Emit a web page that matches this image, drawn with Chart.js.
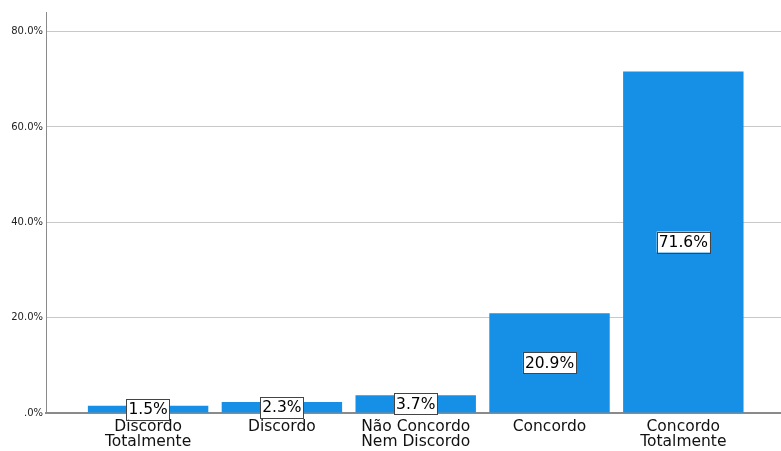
<!DOCTYPE html>
<html>
<head>
<meta charset="utf-8">
<script src="https://cdn.jsdelivr.net/npm/chart.js@4"></script>
<style>
  html, body { margin: 0; padding: 0; background: #fff; }
  #wrap { width: 781px; height: 451px; }
</style>
</head>
<body>
<div id="wrap"><canvas id="myChart"></canvas></div>
<script>
const categories = [['Discordo', 'Totalmente'], 'Discordo', ['Não Concordo', 'Nem Discordo'], 'Concordo', ['Concordo', 'Totalmente']];
const percents = [1.5, 2.3, 3.7, 20.9, 71.6];
const yTicks = [0, 20, 40, 60, 80];

// caixas brancas com o valor no meio da barra
const boxLabels = {
  id: 'boxLabels',
  afterDatasetsDraw(chart) {
    const ctx = chart.ctx;
    const meta = chart.getDatasetMeta(0);
    ctx.save();
    ctx.font = '15.5px "DejaVu Sans", sans-serif';
    ctx.textAlign = 'center';
    ctx.textBaseline = 'middle';
    meta.data.forEach((bar, i) => {
      const txt = percents[i].toFixed(1) + '%';
      const w = ctx.measureText(txt).width + 4;
      const h = 21;
      const cy = (bar.y + bar.base) / 2;
      ctx.fillStyle = '#fff';
      ctx.fillRect(bar.x - w / 2, cy - h / 2, w, h);
      ctx.strokeStyle = '#444';
      ctx.lineWidth = 1;
      ctx.strokeRect(Math.round(bar.x - w / 2) + 0.5, Math.round(cy - h / 2) + 0.5, Math.round(w), h);
      ctx.fillStyle = '#000';
      ctx.fillText(txt, bar.x, cy + 1);
    });
    ctx.restore();
  }
};

const data = {
  datasets: [{
    data: percents.map((v, i) => ({ x: i, y: v })),
    backgroundColor: '#1590e6',
    borderWidth: 0,
    barPercentage: 0.9,
    categoryPercentage: 1.0
  }]
};

const config = {
  type: 'bar',
  data: data,
  options: {
    responsive: true,
    maintainAspectRatio: false,
    animation: false,
    layout: { padding: { top: 12, right: 0, left: 0, bottom: 0 } },
    plugins: { legend: { display: false }, tooltip: { enabled: false } },
    scales: {
      x: {
        type: 'linear',
        min: -0.763,
        max: 4.73,
        offset: false,
        grid: { display: false, drawTicks: false },
        border: { display: true, color: '#8a8a8a', width: 2 },
        ticks: {
          stepSize: 1,
          includeBounds: false,
          autoSkip: false,
          maxRotation: 0,
          padding: 6,
          color: '#111',
          font: { family: '"DejaVu Sans", sans-serif', size: 15.5, lineHeight: 1.0 },
          callback: function(value) {
            return Number.isInteger(value) && categories[value] !== undefined ? categories[value] : '';
          }
        },
        afterFit: function(scale) { scale.height = 38; }
      },
      y: {
        min: 0,
        max: 84.1,
        afterBuildTicks: function(scale) {
          scale.ticks = yTicks.map(v => ({ value: v }));
        },
        grid: { color: '#c8c8c8', drawTicks: false, lineWidth: 1 },
        border: { display: true, color: '#8a8a8a', width: 1 },
        ticks: {
          padding: 3,
          color: '#222',
          font: { family: '"DejaVu Sans", sans-serif', size: 10 },
          callback: function(value) {
            return value === 0 ? '.0%' : value.toFixed(1) + '%';
          }
        },
        afterFit: function(scale) { scale.width = 46; }
      }
    }
  },
  plugins: [boxLabels]
};

var myChart = new Chart(document.getElementById('myChart'), config);
</script>
</body>
</html>
